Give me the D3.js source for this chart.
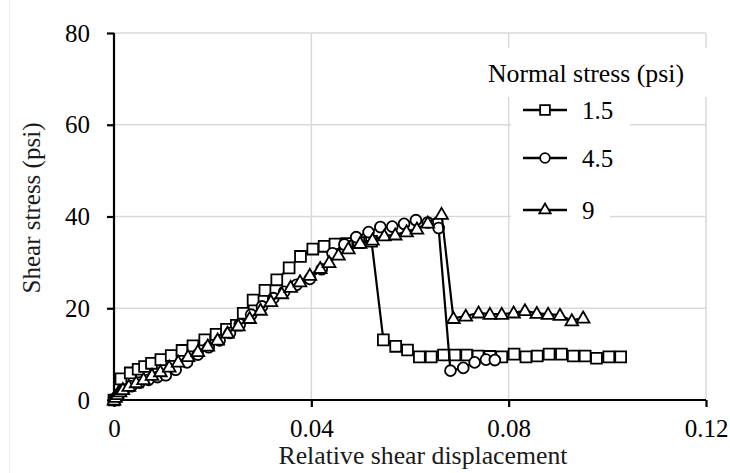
<!doctype html>
<html>
<head>
<meta charset="utf-8">
<script src="https://cdn.jsdelivr.net/npm/d3@7"></script>
<style>
body { margin: 0; background: #fff; }
svg text { font-family: "Liberation Serif", "Times New Roman", serif; fill: #000; }
</style>
</head>
<body>
<svg id="chart" width="730" height="473"></svg>
<script>
// tick values
var xTicks = [0, 0.04, 0.08, 0.12];
var yTicks = [0, 20, 40, 60, 80];

// legend labels (normal stress, psi)
var seriesNames = ["1.5", "4.5", "9"];

// normal stress 1.5 psi (squares)
var dispA = [0, 0.0014, 0.0033, 0.0049, 0.0062, 0.0076, 0.0095, 0.0116, 0.0138, 0.016, 0.0184, 0.0207, 0.0228, 0.0248, 0.0262, 0.0282, 0.0306, 0.033, 0.0355, 0.0378, 0.0403, 0.0426, 0.0448, 0.0472, 0.0496, 0.0522, 0.0546, 0.0571, 0.0595, 0.0619, 0.0643, 0.0668, 0.0691, 0.0715, 0.0738, 0.0762, 0.0786, 0.0811, 0.0835, 0.0858, 0.0882, 0.0907, 0.0931, 0.0955, 0.0978, 0.1003, 0.1027];
var stressA = [0, 4.6, 5.9, 6.7, 7.3, 8.0, 8.8, 9.7, 10.8, 11.8, 13.1, 14.3, 15.4, 16.3, 18.9, 21.8, 23.9, 26.2, 28.8, 31.3, 32.9, 33.5, 34.0, 34.1, 34.3, 34.6, 13.1, 11.7, 10.9, 9.4, 9.4, 9.8, 9.8, 9.8, 9.6, 9.5, 9.4, 10.0, 9.4, 9.6, 10.0, 10.0, 9.6, 9.6, 9.1, 9.4, 9.4];

// normal stress 4.5 psi (circles)
var dispB = [0, 0.0004, 0.0008, 0.0013, 0.002, 0.0035, 0.0052, 0.007, 0.0088, 0.0105, 0.0125, 0.0148, 0.017, 0.0192, 0.0214, 0.0235, 0.0255, 0.0278, 0.03, 0.0323, 0.0345, 0.037, 0.0397, 0.0421, 0.0443, 0.0467, 0.0491, 0.0516, 0.054, 0.0564, 0.0588, 0.0612, 0.0636, 0.0658, 0.0682, 0.0708, 0.0731, 0.0754, 0.0772];
var stressB = [0, 0.5, 1.0, 1.6, 2.2, 3.0, 3.8, 4.4, 5.0, 5.4, 6.6, 8.2, 9.9, 11.5, 13.0, 14.6, 16.5, 18.6, 20.4, 22.2, 23.6, 25.1, 26.4, 28.5, 32.0, 33.9, 35.5, 36.6, 37.7, 37.8, 38.4, 39.2, 38.7, 37.5, 6.4, 7.0, 8.2, 8.8, 8.7];

// normal stress 9 psi (triangles)
var dispC = [0, 0.0003, 0.0007, 0.0012, 0.0018, 0.003, 0.0045, 0.006, 0.0077, 0.0094, 0.0112, 0.013, 0.015, 0.017, 0.019, 0.021, 0.023, 0.0252, 0.0275, 0.0297, 0.0318, 0.034, 0.0358, 0.0377, 0.0397, 0.0418, 0.0436, 0.0455, 0.0475, 0.0499, 0.0524, 0.0548, 0.057, 0.0593, 0.0614, 0.0636, 0.0664, 0.0688, 0.0713, 0.0739, 0.0762, 0.0786, 0.081, 0.0833, 0.0857, 0.088, 0.0904, 0.0928, 0.0951];
var stressC = [0, 0.6, 1.2, 1.8, 2.3, 3.0, 3.8, 4.5, 5.4, 6.2, 7.2, 8.3, 9.5, 10.6, 11.8, 13.1, 14.6, 16.2, 17.8, 19.6, 21.5, 23.2, 24.6, 25.8, 27.2, 28.7, 30.0, 31.6, 33.0, 34.2, 34.9, 35.8, 36.0, 36.7, 37.3, 38.6, 40.5, 17.8, 18.3, 19.0, 18.7, 18.7, 19.0, 19.5, 18.9, 18.7, 18.5, 17.3, 17.9];

var series = [
  {name: seriesNames[0], xs: dispA, ys: stressA, sym: d3.symbolSquare},
  {name: seriesNames[1], xs: dispB, ys: stressB, sym: d3.symbolCircle},
  {name: seriesNames[2], xs: dispC, ys: stressC, sym: d3.symbolTriangle}
];

var svg = d3.select("#chart");

// plot area edges
var pLeft = 114, pRight = 706, pTop = 33, pBottom = 400;

var x = d3.scaleLinear().domain([0, 0.12]).range([pLeft, pRight]);
var y = d3.scaleLinear().domain([0, 80]).range([pBottom, pTop]);

// faint outer border on the left
svg.append("line")
    .attr("x1", 9.5).attr("x2", 9.5).attr("y1", 0).attr("y2", 473)
    .attr("stroke", "#ececec").attr("stroke-width", 1);

// gridlines
svg.append("g").selectAll("line")
    .data(yTicks.filter(function(d) { return d > 0; }))
  .enter().append("line")
    .attr("x1", pLeft).attr("x2", pRight)
    .attr("y1", function(d) { return y(d); })
    .attr("y2", function(d) { return y(d); })
    .attr("stroke", "#d9d9d9").attr("stroke-width", 1.5);

svg.append("g").selectAll("line")
    .data(xTicks.filter(function(d) { return d > 0; }))
  .enter().append("line")
    .attr("x1", function(d) { return x(d); })
    .attr("x2", function(d) { return x(d); })
    .attr("y1", pTop).attr("y2", pBottom)
    .attr("stroke", "#d9d9d9").attr("stroke-width", 1.5);

// axes
var yAxis = svg.append("g")
    .attr("transform", "translate(" + pLeft + ",0)")
    .call(d3.axisLeft(y).tickValues(yTicks).tickSize(7).tickPadding(17).tickFormat(d3.format("d")));

var xAxis = svg.append("g")
    .attr("transform", "translate(0," + pBottom + ")")
    .call(d3.axisBottom(x).tickValues(xTicks).tickSize(7).tickPadding(12)
      .tickFormat(function(d) { return d === 0 ? "0" : d3.format(".2f")(d); }));

[yAxis, xAxis].forEach(function(ax) {
  ax.attr("font-family", null);
  ax.select(".domain").attr("stroke", "#000").attr("stroke-width", 2.2);
  ax.selectAll(".tick line").attr("stroke", "#000").attr("stroke-width", 2.2);
  ax.selectAll(".tick text").attr("font-size", 25).attr("fill", "#000");
});
yAxis.select(".domain").attr("d", "M0," + pTop + "V" + pBottom);
xAxis.select(".domain").attr("d", "M" + pLeft + ",0H" + pRight);

// axis titles
svg.append("text")
    .attr("x", 423).attr("y", 464)
    .attr("text-anchor", "middle").attr("font-size", 25)
    .attr("textLength", 289).attr("lengthAdjust", "spacingAndGlyphs")
    .style("fill", "#1a1a1a")
    .text("Relative shear displacement");

svg.append("text")
    .attr("transform", "translate(40,208) rotate(-90)")
    .attr("text-anchor", "middle").attr("font-size", 25)
    .attr("textLength", 171).attr("lengthAdjust", "spacingAndGlyphs")
    .style("fill", "#1a1a1a")
    .text("Shear stress (psi)");

// series
var line = d3.line()
    .x(function(d) { return x(d[0]); })
    .y(function(d) { return y(d[1]); });

function symSize(sym) {
  if (sym === d3.symbolSquare) return 118;
  if (sym === d3.symbolCircle) return 92;
  return 70;
}

series.forEach(function(s) {
  var pts = s.xs.map(function(v, i) { return [v, s.ys[i]]; });
  var g = svg.append("g");
  g.append("path")
      .datum(pts)
      .attr("d", line)
      .attr("fill", "none")
      .attr("stroke", "#000")
      .attr("stroke-width", 2.2);
  g.selectAll("path.mk")
      .data(pts)
    .enter().append("path")
      .attr("class", "mk")
      .attr("transform", function(d) {
        var dy = s.sym === d3.symbolTriangle ? 1 : 0;
        return "translate(" + x(d[0]) + "," + (y(d[1]) + dy) + ")";
      })
      .attr("d", d3.symbol().type(s.sym).size(symSize(s.sym)))
      .attr("fill", "#fff")
      .attr("stroke", "#000")
      .attr("stroke-width", 1.8);
});

// legend
var legend = svg.append("g");
legend.append("rect")
    .attr("x", 484).attr("y", 48).attr("width", 226).attr("height", 49)
    .attr("fill", "#fff");
legend.append("text")
    .attr("x", 586).attr("y", 82)
    .attr("text-anchor", "middle").attr("font-size", 25)
    .attr("textLength", 196).attr("lengthAdjust", "spacingAndGlyphs")
    .text("Normal stress (psi)");

var entryY = [110, 158, 210];
var entryW = [119, 119, 99];
series.forEach(function(s, i) {
  var cy = entryY[i];
  legend.append("rect")
      .attr("x", 511).attr("y", cy - 24).attr("width", entryW[i]).attr("height", 48)
      .attr("fill", "#fff");
  legend.append("line")
      .attr("x1", 523).attr("x2", 567).attr("y1", cy).attr("y2", cy)
      .attr("stroke", "#000").attr("stroke-width", 2.6);
  legend.append("path")
      .attr("transform", "translate(545," + cy + ")")
      .attr("d", d3.symbol().type(s.sym).size(symSize(s.sym) * 0.8))
      .attr("fill", "#fff")
      .attr("stroke", "#000")
      .attr("stroke-width", 1.8);
  legend.append("text")
      .attr("x", 582).attr("y", cy + 8.5)
      .attr("font-size", 25)
      .text(s.name);
});
</script>
</body>
</html>
